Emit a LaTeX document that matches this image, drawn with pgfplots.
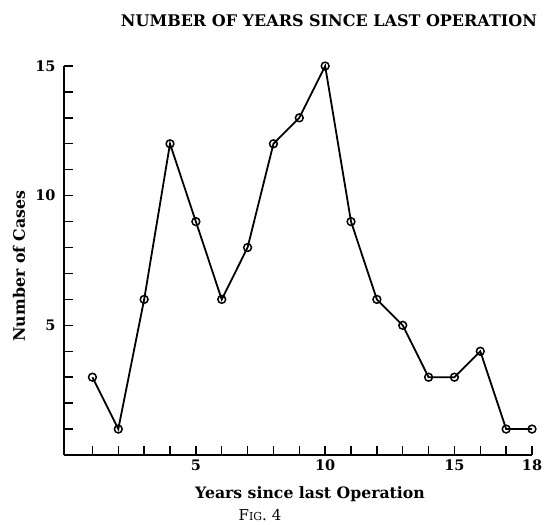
\documentclass[border=0pt]{standalone}
\usepackage{pgfplots}
\pgfplotsset{compat=1.18}
\usepackage{fontspec}
\setmainfont{DejaVu Serif}
\begin{document}
\begin{tikzpicture}[x=1pt,y=1pt]
\path[use as bounding box] (0,0) rectangle (545,524);
\begin{axis}[
  at={(64pt,69pt)}, anchor=south west,
  scale only axis, width=468pt, height=389pt,
  xmin=-0.1, xmax=18, ymin=0, ymax=15,
  axis x line*=bottom, axis y line*=left,
  axis line style={line width=1.6pt,-},
  xtick={5,10,15,18}, minor xtick={1,2,3,4,6,7,8,9,11,12,13,14,16,17},
  ytick={5,10,15}, minor ytick={1,2,3,4,6,7,8,9,11,12,13,14},
  tick align=inside,
  major tick length=9pt, minor tick length=9pt,
  every tick/.style={line width=1.4pt,black},
  /pgf/number format/assume math mode=true,
  ticklabel style={font=\fontsize{14.5}{16}\selectfont\bfseries},
  xticklabel style={yshift=-1pt},
  yticklabel style={xshift=-5pt},
  clip=false,
]
\addplot[black, line width=1.8pt, mark=o, mark size=3.9pt, mark options={line width=1.5pt, fill=white}]
coordinates {(1,3)(2,1)(3,6)(4,12)(5,9)(6,6)(7,8)(8,12)(9,13)(10,15)(11,9)(12,6)(13,5)(14,3)(15,3)(16,4)(17,1)(18,1)};
\end{axis}
\node[font=\fontsize{15.7}{18}\selectfont\bfseries] at (310,30) {Years since last Operation};
\node[font=\fontsize{15.8}{18}\selectfont\bfseries, rotate=90] at (19,258) {Number of Cases};
\node[font=\fontsize{16}{18}\selectfont\bfseries] at (329,503) {NUMBER OF YEARS SINCE LAST OPERATION};
\node[font=\fontsize{15}{17}\selectfont, inner sep=0pt] at (260,9) {F{\fontsize{11}{13}\selectfont IG}. 4};
\end{tikzpicture}
\end{document}
